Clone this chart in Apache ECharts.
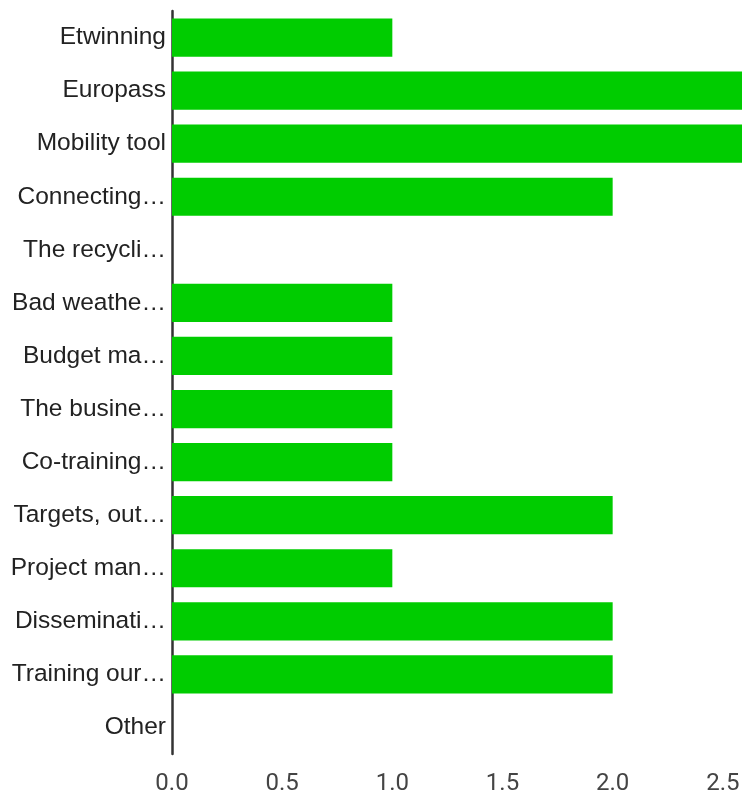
<!DOCTYPE html>
<html>
<head>
<meta charset="utf-8">
<script src="https://cdn.jsdelivr.net/npm/echarts@6/dist/echarts.min.js"></script>
<style>
  html, body { margin: 0; padding: 0; background: #fff; }
  #chart { width: 742px; height: 794px; }
</style>
</head>
<body>
<div id="chart"></div>
<script>
  // categories, top to bottom
  const categories = ['Etwinning', 'Europass', 'Mobility tool', 'Connecting…', 'The recycli…', 'Bad weathe…', 'Budget ma…',
    'The busine…', 'Co-training…', 'Targets, out…', 'Project man…', 'Disseminati…', 'Training our…', 'Other']
  const counts = [1, 3, 3, 2, 0, 1, 1, 1, 1, 2, 1, 2, 2, 0]
  const xTicks = [0, 0.5, 1, 1.5, 2, 2.5, 3]

  let myChart = echarts.init(document.getElementById('chart'))
  let option = {
    animation: false,
    grid: {
      left: 172,
      right: -91, // plot runs past the right edge, as in the original
      top: 11,
      bottom: 40,
      outerBoundsMode: 'none'
    },
    xAxis: {
      type: 'value',
      min: xTicks[0],
      max: xTicks[xTicks.length - 1],
      interval: 0.5,
      axisLine: { show: false },
      axisTick: { show: false },
      splitLine: { show: false },
      axisLabel: {
        color: '#444',
        fontFamily: 'Roboto',
        fontSize: 24,
        margin: 18,
        formatter: v => v.toFixed(1)
      }
    },
    yAxis: {
      type: 'category',
      inverse: true,
      data: categories,
      axisLine: { show: true, lineStyle: { color: '#333', width: 2.5 } },
      axisTick: { show: false },
      axisLabel: {
        color: '#222',
        fontFamily: 'Liberation Sans',
        fontSize: 24.5,
        margin: 6,
        padding: [4, 0, 0, 0]
      }
    },
    series: [
      {
        type: 'bar',
        data: counts,
        barCategoryGap: '28%',
        itemStyle: { color: '#00cc00' }
      }
    ]
  }
  myChart.setOption(option)
</script>
</body>
</html>
